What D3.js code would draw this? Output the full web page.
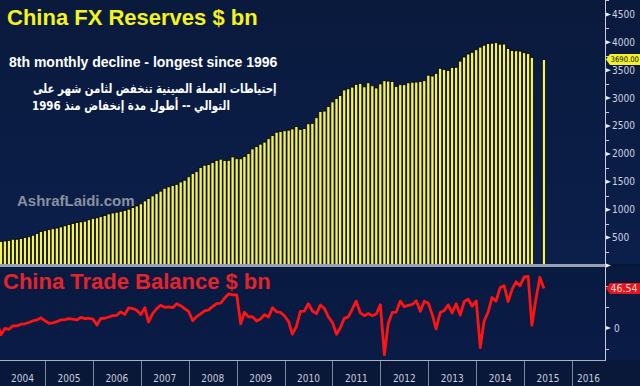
<!DOCTYPE html>
<html>
<head>
<meta charset="utf-8">
<script src="https://cdn.jsdelivr.net/npm/d3@7"></script>
<style>
  body { margin: 0; background: #071634; }
  svg { display: block; }
</style>
</head>
<body>
<div id="chart"></div>
<script>
// monthly data, Jan 2004 .. Jun 2015
var startYear = 2004;

// China FX reserves, $ bn (Apr/May 2015 not shown)
var reserves = [
  415.7, 431.5, 439.8, 448.9, 470.6, 470.6, 483.1, 499.7, 514.5, 542.0, 573.8, 609.9,
  623.6, 642.6, 659.1, 670.9, 691.0, 711.0, 732.7, 753.3, 769.0, 782.0, 794.2, 818.9,
  845.2, 853.7, 875.1, 895.0, 925.0, 941.1, 954.6, 972.0, 987.9, 1009.6, 1038.2, 1066.3,
  1104.7, 1157.4, 1202.0, 1246.6, 1292.7, 1332.6, 1385.2, 1408.6, 1433.6, 1454.9, 1497.0, 1528.2,
  1589.8, 1647.1, 1682.2, 1756.7, 1797.0, 1808.8, 1845.2, 1884.2, 1905.6, 1879.7, 1884.7, 1946.0,
  1913.5, 1912.1, 1953.7, 2008.9, 2089.5, 2131.6, 2174.6, 2210.8, 2272.6, 2327.3, 2388.8, 2399.2,
  2415.2, 2424.6, 2447.1, 2490.5, 2439.5, 2454.3, 2538.6, 2547.8, 2648.3, 2760.9, 2767.8, 2847.3,
  2931.7, 2991.4, 3044.7, 3145.2, 3166.4, 3197.5, 3245.3, 3262.5, 3201.7, 3273.8, 3220.9, 3181.1,
  3253.6, 3309.7, 3305.0, 3298.9, 3206.1, 3240.0, 3240.0, 3272.9, 3285.1, 3287.4, 3297.2, 3311.6,
  3410.0, 3395.4, 3442.6, 3534.5, 3514.8, 3496.7, 3547.8, 3553.0, 3662.7, 3736.6, 3789.5, 3821.3,
  3866.6, 3913.7, 3948.1, 3978.8, 3983.9, 3993.2, 3966.3, 3968.8, 3887.7, 3852.9, 3847.3, 3843.0,
  3813.4, 3801.5, 3730.0, null, null, 3690.0
];

// China trade balance, $ bn
var tradeBalance = [
  6, -7.9, -0.5, -1.5, 2.5, 2.5, 4.5, 5, 6.5, 8.5, 9.5, 12,
  8.5, 5.5, 6, 7.5, 9.5, 10, 11, 10.5, 9.5, 12.5, 11, 11.5,
  10.5, 3.5, 11.2, 11.5, 13, 14.5, 15, 19, 16, 23.8, 22.9, 20.9,
  15.9, 23.8, 6.9, 16.9, 22.5, 26.9, 24.4, 25.0, 23.9, 28.5, 26.3, 22.7,
  19.5, 8.6, 13.4, 16.7, 20.2, 21.4, 25.3, 28.7, 29.3, 35.2, 40.1, 39.0,
  39.1, 4.8, 18.6, 13.1, 13.4, 8.3, 10.6, 15.7, 12.9, 24.0, 19.1, 18.4,
  14.2, 7.6, -7.2, 1.7, 19.5, 20.0, 28.7, 20.0, 16.9, 27.1, 22.9, 13.1,
  6.5, -7.3, 0.1, 11.4, 13.1, 22.3, 31.5, 17.8, 14.5, 17.0, 14.5, 16.5,
  27.3, -31.5, 5.3, 18.4, 18.7, 31.7, 25.2, 26.7, 27.7, 32.0, 19.6, 31.6,
  29.2, 15.2, -0.9, 18.2, 20.4, 27.1, 17.8, 28.5, 15.2, 31.1, 33.8, 25.6,
  31.9, -23.0, 7.7, 18.5, 35.9, 31.6, 47.3, 49.8, 31.0, 45.4, 54.5, 49.6,
  60.0, 60.6, 3.1, 34.1, 59.5, 46.54
];

var reserveTicks = [0, 500, 1000, 1500, 2000, 2500, 3000, 3500, 4000, 4500];
var tradeTicks = [0];
var yearLabels = [2004, 2005, 2006, 2007, 2008, 2009, 2010, 2011, 2012, 2013, 2014, 2015, 2016];
var lastReserveLabel = "3690.00";
var lastTradeLabel = "46.54";

// box
var width = 640, height = 386;
var axisX = 605;
var narrow = "'Liberation Sans Narrow', 'Arial Narrow', 'DejaVu Sans Condensed', sans-serif";

var svg = d3.select("#chart").append("svg")
  .attr("width", width)
  .attr("height", height);

var defs = svg.append("defs");
var g1 = defs.append("linearGradient").attr("id", "bgTop").attr("x1", 0).attr("y1", 0).attr("x2", 0).attr("y2", 1);
g1.append("stop").attr("offset", "0%").attr("stop-color", "#0a1a3d");
g1.append("stop").attr("offset", "100%").attr("stop-color", "#0b1f4b");
var g2 = defs.append("linearGradient").attr("id", "bgBot").attr("x1", 0).attr("y1", 0).attr("x2", 0).attr("y2", 1);
g2.append("stop").attr("offset", "0%").attr("stop-color", "#081a40");
g2.append("stop").attr("offset", "100%").attr("stop-color", "#0a1c46");

defs.append("clipPath").attr("id", "clipTop").append("rect")
  .attr("x", 0).attr("y", 0).attr("width", axisX).attr("height", 264);
defs.append("clipPath").attr("id", "clipBot").append("rect")
  .attr("x", 0).attr("y", 268).attr("width", axisX).attr("height", 92);

// backgrounds
svg.append("rect").attr("width", width).attr("height", 264).attr("fill", "url(#bgTop)");
svg.append("rect").attr("y", 267).attr("width", width).attr("height", 93).attr("fill", "url(#bgBot)");
svg.append("rect").attr("y", 360).attr("width", width).attr("height", 26).attr("fill", "#091838");

// scales
var x = d3.scaleTime()
  .domain([new Date(2004, 0, 1), new Date(2016, 0, 1)])
  .range([-3, 572]);
var yTop = d3.scaleLinear().domain([0, 4758]).range([265.5, 0]);
var yBot = d3.scaleLinear().domain([-37.6, 70.6]).range([360, 268]);

function monthDate(i) {
  return new Date(startYear, i, 1);
}

// bars
var barData = reserves
  .map(function(v, i) { return { date: monthDate(i), value: v }; })
  .filter(function(d) { return d.value !== null; });

svg.append("g").attr("clip-path", "url(#clipTop)")
  .selectAll("rect")
  .data(barData)
  .enter()
  .append("rect")
  .attr("x", function(d) { return x(d.date) - 1.6; })
  .attr("width", 3.2)
  .attr("y", function(d) { return yTop(d.value); })
  .attr("height", function(d) { return yTop(0) - yTop(d.value); })
  .attr("fill", "#f2f25e")
  .attr("stroke", "#050505")
  .attr("stroke-width", 0.8);

// panel separator
svg.append("rect").attr("x", 0).attr("y", 264).attr("width", axisX).attr("height", 3).attr("fill", "#98a1b3");

// watermark
svg.append("text")
  .attr("x", 17).attr("y", 206)
  .attr("font-family", "'Liberation Sans', Arial, sans-serif")
  .attr("font-weight", "bold")
  .attr("font-size", 15)
  .attr("fill", "#8a919f")
  .text("AshrafLaidi.com");

// titles
svg.append("text")
  .attr("x", 7).attr("y", 25)
  .attr("font-family", "'Liberation Sans', Arial, sans-serif")
  .attr("font-weight", "bold")
  .attr("font-size", 22)
  .attr("fill", "#f4f41c")
  .text("China FX Reserves $ bn");

svg.append("text")
  .attr("x", 9).attr("y", 67)
  .attr("font-family", "'Liberation Sans', Arial, sans-serif")
  .attr("font-weight", "bold")
  .attr("font-size", 14)
  .attr("fill", "#ffffff")
  .text("8th monthly decline - longest since 1996");

// arabic note: keep glyph height, squeeze horizontally to the original width
function fitText(str, left, baseline, targetWidth, size) {
  var t = svg.append("text")
    .attr("x", 0).attr("y", 0)
    .attr("font-family", "'DejaVu Sans', sans-serif")
    .attr("font-weight", "bold")
    .attr("font-size", size)
    .attr("fill", "#ffffff")
    .text(str);
  var box = t.node().getBBox();
  var k = box.width > 0 ? targetWidth / box.width : 1;
  t.attr("transform", "translate(" + (left - box.x * k) + "," + baseline + ") scale(" + k + ",1)");
}
fitText("إحتياطات العملة الصينية تنخفض لثامن شهر على", 33, 93, 244, 13);
fitText("التوالي -- أطول مدة إنخفاض منذ 1996", 32, 110, 198, 13);

svg.append("text")
  .attr("x", 3).attr("y", 289)
  .attr("font-family", "'Liberation Sans', Arial, sans-serif")
  .attr("font-weight", "bold")
  .attr("font-size", 22)
  .attr("fill", "#e5232b")
  .text("China Trade Balance $ bn");

// trade balance line
var line = d3.line()
  .x(function(d, i) { return x(monthDate(i)); })
  .y(function(d) { return yBot(d); });

svg.append("g").attr("clip-path", "url(#clipBot)")
  .append("path")
  .datum(tradeBalance)
  .attr("d", line)
  .attr("fill", "none")
  .attr("stroke", "#ff1414")
  .attr("stroke-width", 2.8)
  .attr("stroke-linejoin", "round");

// right axis
svg.append("line")
  .attr("x1", axisX + 0.5).attr("x2", axisX + 0.5)
  .attr("y1", 0).attr("y2", 360.5)
  .attr("stroke", "#c9cdd8");

function majorTick(y) {
  svg.append("path")
    .attr("d", "M" + (axisX + 1) + "," + (y - 2) + "L" + (axisX + 6) + "," + y + "L" + (axisX + 1) + "," + (y + 2) + "Z")
    .attr("fill", "#e8ebf2");
}
function minorTick(y) {
  svg.append("line")
    .attr("x1", axisX + 1).attr("x2", axisX + 4)
    .attr("y1", y).attr("y2", y)
    .attr("stroke", "#c9cdd8");
}

d3.range(250, 4758, 500).forEach(function(v) { minorTick(Math.round(yTop(v)) + 0.5); });
reserveTicks.forEach(function(v) {
  var y = yTop(v);
  majorTick(y);
  if (v > 0) {
    svg.append("text")
      .attr("x", axisX + 7).attr("y", y).attr("dy", "0.35em")
      .attr("font-family", narrow).attr("font-size", 10)
      .attr("fill", "#cdd3e0")
      .text(v);
  }
});

[-25, 25, 50].forEach(function(v) { minorTick(Math.round(yBot(v)) + 0.5); });
tradeTicks.forEach(function(v) {
  var y = yBot(v);
  majorTick(y);
  svg.append("text")
    .attr("x", axisX + 9).attr("y", y).attr("dy", "0.35em")
    .attr("font-family", narrow).attr("font-size", 10)
    .attr("fill", "#cdd3e0")
    .text(v);
});

// last value tags
function valueTag(y, fill, textFill, label, size) {
  svg.append("path")
    .attr("d", "M" + (axisX + 1) + "," + y + "L" + (axisX + 5) + "," + (y - 5.5) +
      "L" + width + "," + (y - 5.5) + "L" + width + "," + (y + 5.5) + "L" + (axisX + 5) + "," + (y + 5.5) + "Z")
    .attr("fill", fill);
  var t = svg.append("text")
    .attr("x", axisX + 5.5).attr("y", y).attr("dy", "0.36em")
    .attr("font-family", narrow).attr("font-size", size)
    .attr("fill", textFill)
    .text(label);
  // keep the label inside the picture
  var room = width - (axisX + 6.5);
  var w = t.node().getComputedTextLength();
  if (w > room) t.attr("font-size", size * room / w);
}
valueTag(yTop(reserves[reserves.length - 1]), "#f2f22a", "#111111", lastReserveLabel, 10);
valueTag(yBot(tradeBalance[tradeBalance.length - 1]), "#e4161c", "#ffd6d6", lastTradeLabel, 10.5);

// x axis: year cells
svg.append("line")
  .attr("x1", 0).attr("x2", axisX + 1)
  .attr("y1", 360.5).attr("y2", 360.5)
  .attr("stroke", "#aab1c0");

yearLabels.forEach(function(yr) {
  var a = x(new Date(yr, 0, 1));
  var b = x(new Date(yr + 1, 0, 1));
  if (yr > startYear) {
    svg.append("line")
      .attr("x1", Math.round(a) + 0.5).attr("x2", Math.round(a) + 0.5)
      .attr("y1", 361).attr("y2", height)
      .attr("stroke", "#7e889b");
  }
  var left = Math.max(a, 0), right = Math.min(b, axisX);
  svg.append("text")
    .attr("x", (left + right) / 2).attr("y", 382)
    .attr("text-anchor", "middle")
    .attr("font-family", narrow).attr("font-size", 10)
    .attr("fill", "#c6cddb")
    .text(yr);
});
</script>
</body>
</html>
